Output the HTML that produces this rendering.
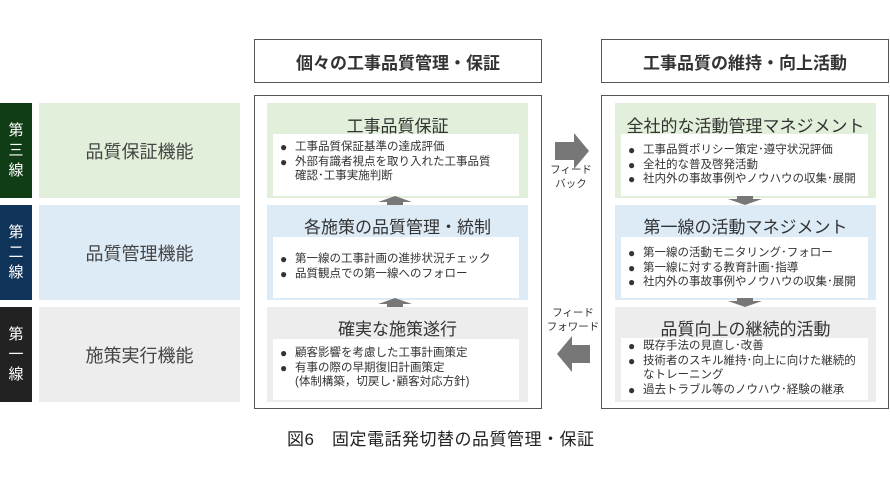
<!DOCTYPE html>
<html><head><meta charset="utf-8"><style>
*{margin:0;padding:0;box-sizing:border-box}
body{width:890px;height:500px;background:#fff;position:relative;overflow:hidden;font-family:"Liberation Sans","Noto Sans CJK JP",sans-serif;color:#333}
.a{position:absolute}
.bar{position:absolute;left:0;width:32px;color:#fff;font-size:15px;line-height:20px;text-align:center;display:flex;align-items:center;justify-content:center;flex-direction:column}
.lp{position:absolute;left:39px;width:201px;font-size:18px;display:flex;align-items:center;justify-content:center;color:#444}
.hdr{position:absolute;top:39px;height:44px;border:1.5px solid #555;font-size:17px;font-weight:bold;display:flex;align-items:center;justify-content:center;color:#333}
.box{position:absolute;top:95px;height:314px;border:1.5px solid #555}
.sec{position:absolute;width:261px;height:95px}
.tt{position:absolute;left:0;right:0;text-align:center;font-size:17px;color:#333}
.wb{position:absolute;background:#fff;font-size:11.5px;line-height:14.5px;color:#333;padding-left:22px}
.wb div{position:relative}
.wb div.b::before{content:"●";position:absolute;left:-15px;font-size:12px}
.up{position:absolute;width:0;height:0;border-left:17px solid transparent;border-right:17px solid transparent;border-bottom:6px solid #777}
.dn{position:absolute;width:0;height:0;border-left:17px solid transparent;border-right:17px solid transparent;border-top:6px solid #777}
.sh{position:absolute;background:#777}
.sm{position:absolute;font-size:10.5px;line-height:14px;text-align:center;color:#333}
</style></head><body>
<div class="bar" style="top:103px;height:95px;background:#113d16">第<br>三<br>線</div>
<div class="bar" style="top:205px;height:95px;background:#10335a">第<br>二<br>線</div>
<div class="bar" style="top:307px;height:95px;background:#222">第<br>一<br>線</div>
<div class="lp" style="top:103px;height:95px;background:#e2efda">品質保証機能</div>
<div class="lp" style="top:205px;height:95px;background:#ddebf7">品質管理機能</div>
<div class="lp" style="top:307px;height:95px;background:#ededed">施策実行機能</div>

<div class="hdr" style="left:254px;width:288px">個々の工事品質管理・保証</div>
<div class="hdr" style="left:601px;width:288px">工事品質の維持・向上活動</div>

<div class="box" style="left:254px;width:288px"></div>
<div class="box" style="left:601px;width:288px"></div>

<div class="sec" style="left:267px;top:103px;background:#e2efda"><div class="tt" style="top:9px">工事品質保証</div></div>
<div class="wb" style="left:273px;top:134px;width:246px;height:62px;padding-top:6px"><div class="b">工事品質保証基準の達成評価</div><div class="b">外部有識者視点を取り入れた工事品質</div><div>確認･工事実施判断</div></div>
<div class="sec" style="left:267px;top:205px;background:#ddebf7"><div class="tt" style="top:8px">各施策の品質管理・統制</div></div>
<div class="wb" style="left:273px;top:237px;width:246px;height:61px;padding-top:15px"><div class="b">第一線の工事計画の進捗状況チェック</div><div class="b">品質観点での第一線へのフォロー</div></div>
<div class="sec" style="left:267px;top:307px;background:#ededed"><div class="tt" style="top:8px">確実な施策遂行</div></div>
<div class="wb" style="left:273px;top:339px;width:246px;height:61px;padding-top:7px"><div class="b">顧客影響を考慮した工事計画策定</div><div class="b">有事の際の早期復旧計画策定</div><div>(体制構築，切戻し･顧客対応方針)</div></div>
<div class="up" style="left:378px;top:196px"></div><div class="sh" style="left:387px;top:202px;width:16px;height:3px"></div>
<div class="up" style="left:378px;top:298px"></div><div class="sh" style="left:387px;top:304px;width:16px;height:3px"></div>

<div class="sec" style="left:615px;top:103px;background:#e2efda"><div class="tt" style="top:9px">全社的な活動管理マネジメント</div></div>
<div class="wb" style="left:621px;top:134px;width:247px;height:62px;padding-top:9px"><div class="b">工事品質ポリシー策定･遵守状況評価</div><div class="b">全社的な普及啓発活動</div><div class="b">社内外の事故事例やノウハウの収集･展開</div></div>
<div class="sec" style="left:615px;top:205px;background:#ddebf7"><div class="tt" style="top:8px">第一線の活動マネジメント</div></div>
<div class="wb" style="left:621px;top:237px;width:247px;height:61px;padding-top:9px"><div class="b">第一線の活動モニタリング･フォロー</div><div class="b">第一線に対する教育計画･指導</div><div class="b">社内外の事故事例やノウハウの収集･展開</div></div>
<div class="sec" style="left:615px;top:307px;background:#ededed"><div class="tt" style="top:8px">品質向上の継続的活動</div></div>
<div class="wb" style="left:621px;top:338px;width:247px;height:62px;padding-top:1px"><div class="b">既存手法の見直し･改善</div><div class="b">技術者のスキル維持･向上に向けた継続的</div><div>なトレーニング</div><div class="b">過去トラブル等のノウハウ･経験の継承</div></div>
<div class="sh" style="left:737px;top:196px;width:16px;height:3px"></div><div class="dn" style="left:728px;top:199px"></div>
<div class="sh" style="left:737px;top:298px;width:16px;height:3px"></div><div class="dn" style="left:728px;top:301px"></div>

<svg class="a" style="left:550px;top:130px" width="45" height="45"><polygon points="5,12 24,12 24,3 39,21 24,39 24,30 5,30" fill="#777"/></svg>
<div class="sm" style="left:546px;top:163px;width:50px">フィード<br>バック</div>
<div class="sm" style="left:543px;top:306px;width:60px">フィード<br>フォワード</div>
<svg class="a" style="left:552px;top:333px" width="45" height="45"><polygon points="38,12 20,12 20,3 5,21 20,39 20,30 38,30" fill="#777"/></svg>

<div class="a" style="left:287px;top:425px;font-size:17px;letter-spacing:0.5px;color:#222;white-space:nowrap">図6　固定電話発切替の品質管理・保証</div>
</body></html>
